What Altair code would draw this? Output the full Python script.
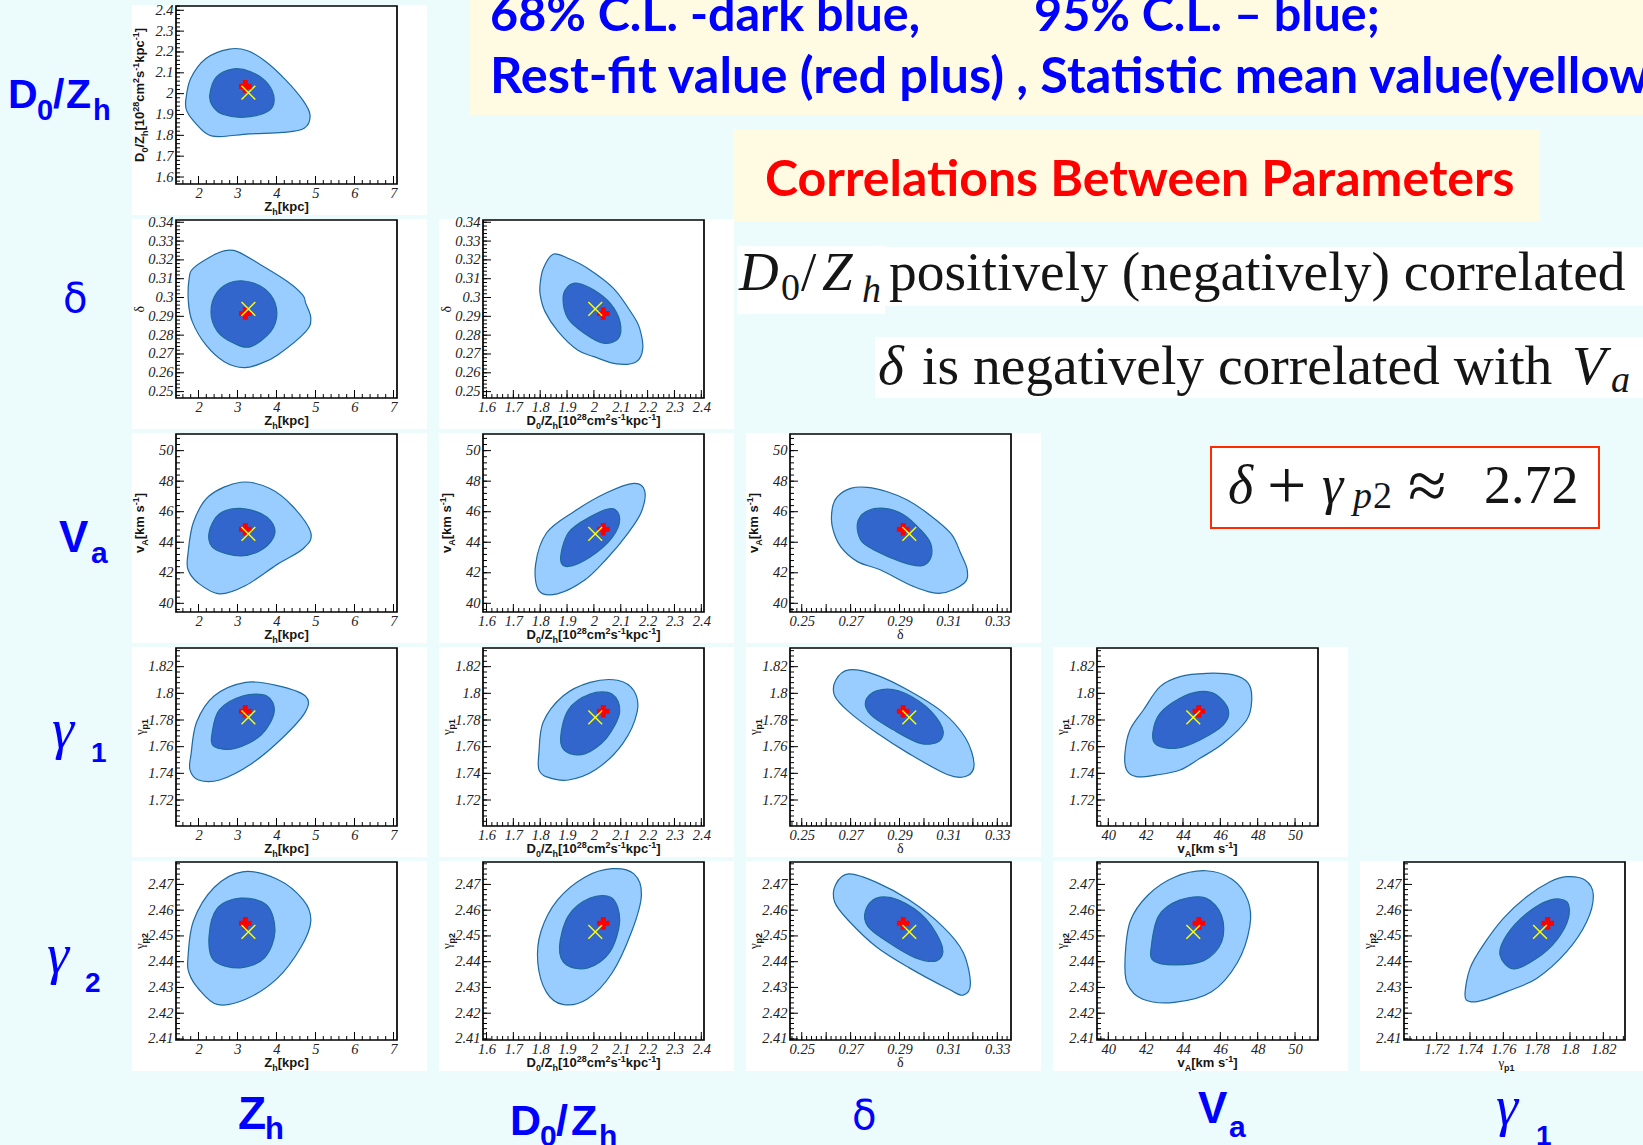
import altair as alt
import numpy as np
import pandas as pd

# ---------------------------------------------------------------- layout
SLIDE_W, SLIDE_H = 1643, 1145
FW, FH = 221, 178            # plot frame of one panel
X0, Y0 = 176, 6              # frame of the top-left panel
STEP_X, STEP_Y = 307, 214    # panel pitch

BG = "#ecfcfd"
PANEL_BG = "#ffffff"
NOTE_BG = "#fffbe3"
LIGHT = "#99ccff"   # 95% C.L.
DARK = "#3366cc"    # 68% C.L.
EDGE = "#1d6aa0"
BLUE = "#0000ff"
RED = "#ff0000"
INK = "#151515"

# ---------------------------------------------------------------- data
COL_VARS = ["Zh", "D", "delta", "vA", "g1"]
ROW_VARS = ["D", "delta", "vA", "g1", "g2"]

X_DOMAIN = {"Zh": [1.423, 7.09], "D": [1.587, 2.41], "delta": [0.2452, 0.3356],
            "vA": [39.395, 51.23], "g1": [1.7004, 1.833]}
Y_DOMAIN = {"D": [1.5665, 2.4206], "delta": [0.2466, 0.3412], "vA": [39.43, 51.09],
            "g1": [1.7005, 1.834], "g2": [2.4096, 2.4787]}

X_LABELS = {"Zh": [2, 3, 4, 5, 6, 7],
            "D": [1.6, 1.7, 1.8, 1.9, 2.0, 2.1, 2.2, 2.3, 2.4],
            "delta": [0.25, 0.27, 0.29, 0.31, 0.33],
            "vA": [40, 42, 44, 46, 48, 50],
            "g1": [1.72, 1.74, 1.76, 1.78, 1.8, 1.82]}
Y_LABELS = {"D": [1.6, 1.7, 1.8, 1.9, 2.0, 2.1, 2.2, 2.3, 2.4],
            "delta": [0.25, 0.26, 0.27, 0.28, 0.29, 0.3, 0.31, 0.32, 0.33, 0.34],
            "vA": [40, 42, 44, 46, 48, 50],
            "g1": [1.72, 1.74, 1.76, 1.78, 1.8, 1.82],
            "g2": [2.41, 2.42, 2.43, 2.44, 2.45, 2.46, 2.47]}
X_MAJOR = dict(X_LABELS, delta=[0.25, 0.26, 0.27, 0.28, 0.29, 0.3, 0.31, 0.32, 0.33])
MINOR_STEP = {"Zh": 0.2, "D": 0.02, "delta": 0.002, "vA": 0.4, "g1": 0.004, "g2": 0.002}

BEST = {"Zh": 3.20, "D": 2.035, "delta": 0.2915, "vA": 44.85, "g1": 1.7866, "g2": 2.4549}
MEAN = {"Zh": 3.28, "D": 2.005, "delta": 0.2940, "vA": 44.55, "g1": 1.7820, "g2": 2.4516}

# contour outlines, (x, y) vertices keyed by "xvar|yvar"
C95 = {
    "Zh|D": [(1.675, 1.970), (1.80, 2.073), (2.19, 2.169), (2.79, 2.214), (3.26, 2.206), (3.73, 2.153),
             (4.24, 2.065), (4.67, 1.970), (4.86, 1.898), (4.71, 1.834), (4.16, 1.814), (3.30, 1.807),
             (2.53, 1.794), (2.19, 1.810), (1.85, 1.874), (1.69, 1.922)],
    "Zh|delta": [(1.76, 0.3102), (1.87, 0.3156), (2.32, 0.3218), (2.66, 0.3248), (3.00, 0.3244),
                 (3.60, 0.3173), (4.28, 0.3085), (4.67, 0.3014), (4.75, 0.2969), (4.88, 0.2890),
                 (4.75, 0.2819), (4.03, 0.2695), (3.60, 0.2650), (3.17, 0.2627), (2.66, 0.2659),
                 (2.19, 0.2748), (1.84, 0.2872), (1.74, 0.2978)],
    "D|delta": [(1.80, 0.3076), (1.812, 0.3156), (1.848, 0.3230), (1.903, 0.3209), (1.976, 0.3156),
                (2.073, 0.3049), (2.145, 0.2907), (2.170, 0.2837), (2.182, 0.2730), (2.158, 0.2659),
                (2.085, 0.2647), (2.00, 0.2686), (1.939, 0.2721), (1.867, 0.2819), (1.818, 0.2925),
                (1.80, 0.3014)],
    "Zh|vA": [(1.73, 43.24), (1.87, 45.31), (2.27, 47.03), (3.08, 47.93), (3.83, 47.52), (4.42, 46.34),
              (4.88, 44.62), (4.69, 43.59), (4.02, 42.55), (3.21, 41.17), (2.54, 40.62), (2.00, 41.31),
              (1.73, 42.21)],
    "D|vA": [(1.795, 40.83), (1.783, 42.55), (1.824, 44.62), (1.925, 46.0), (2.047, 47.24), (2.149, 47.86),
             (2.189, 47.38), (2.177, 46.0), (2.128, 44.62), (2.047, 42.90), (1.966, 41.52), (1.864, 40.62)],
    "delta|vA": [(0.2625, 46.22), (0.2646, 46.99), (0.2700, 47.53), (0.2768, 47.60), (0.2850, 47.31),
                 (0.2932, 46.77), (0.3014, 45.90), (0.3109, 44.59), (0.3150, 43.28), (0.3177, 42.18),
                 (0.3164, 41.31), (0.3068, 40.66), (0.2959, 41.09), (0.2823, 42.18), (0.2728, 42.73),
                 (0.2659, 43.71), (0.2625, 45.02)],
    "Zh|g1": [(1.81, 1.7546), (1.95, 1.7783), (2.40, 1.7980), (3.21, 1.8082), (4.02, 1.8058), (4.74, 1.7980),
              (4.74, 1.7861), (4.15, 1.7665), (3.34, 1.7468), (2.54, 1.7350), (2.00, 1.7350), (1.78, 1.7428)],
    "D|g1": [(1.795, 1.7546), (1.811, 1.7783), (1.885, 1.7980), (1.986, 1.8082), (2.088, 1.8098),
             (2.149, 1.8019), (2.161, 1.7861), (2.108, 1.7625), (2.007, 1.7428), (1.905, 1.7350),
             (1.824, 1.7373), (1.795, 1.7428)],
    "delta|g1": [(0.2639, 1.8098), (0.2693, 1.8176), (0.2806, 1.8137), (0.2940, 1.8019), (0.3075, 1.7861),
                 (0.3170, 1.7665), (0.3205, 1.7468), (0.3175, 1.7380), (0.3098, 1.7389), (0.2940, 1.7546),
                 (0.2806, 1.7704), (0.2693, 1.7861), (0.2635, 1.7980)],
    "vA|g1": [(40.89, 1.755), (41.16, 1.7725), (41.88, 1.7875), (42.77, 1.805), (43.84, 1.8125),
              (45.27, 1.815), (46.70, 1.8138), (47.50, 1.8075), (47.68, 1.795), (47.41, 1.780),
              (46.16, 1.7625), (44.91, 1.7513), (43.84, 1.7425), (42.59, 1.7388), (41.52, 1.7375),
              (40.98, 1.7425)],
    "Zh|g2": [(1.73, 2.4416), (1.87, 2.4558), (2.40, 2.4688), (3.13, 2.4749), (4.02, 2.4720), (4.69, 2.4639),
              (4.88, 2.4558), (4.63, 2.4457), (4.02, 2.4335), (3.21, 2.4254), (2.48, 2.4234), (2.00, 2.4295),
              (1.76, 2.4355)],
    "D|g2": [(1.791, 2.4396), (1.803, 2.4518), (1.864, 2.4639), (1.966, 2.4728), (2.067, 2.4761),
             (2.149, 2.4741), (2.177, 2.4659), (2.141, 2.4518), (2.067, 2.4355), (1.974, 2.4254),
             (1.884, 2.4234), (1.823, 2.4282)],
    "delta|g2": [(0.2639, 2.4700), (0.2693, 2.4741), (0.2806, 2.4708), (0.2940, 2.4639), (0.3075, 2.4538),
                 (0.3160, 2.4437), (0.3190, 2.4315), (0.3160, 2.4270), (0.3098, 2.4295), (0.2940, 2.4376),
                 (0.2806, 2.4457), (0.2693, 2.4558), (0.2635, 2.4631)],
    "vA|g2": [(40.90, 2.4416), (41.18, 2.4558), (42.13, 2.4659), (43.54, 2.4728), (45.22, 2.4753),
              (46.63, 2.4720), (47.47, 2.4639), (47.58, 2.4538), (46.91, 2.4396), (45.51, 2.4282),
              (43.54, 2.4242), (41.85, 2.4254), (41.01, 2.4315)],
    "g1|g2": [(1.737, 2.4271), (1.740, 2.4374), (1.748, 2.4465), (1.760, 2.4568), (1.774, 2.4652),
              (1.788, 2.4710), (1.798, 2.4730), (1.809, 2.4717), (1.814, 2.4659), (1.810, 2.4555),
              (1.798, 2.4439), (1.780, 2.4335), (1.762, 2.4284), (1.748, 2.4251), (1.740, 2.4245)],
}
C68 = {
    "Zh|D": [(2.29, 1.994), (2.45, 2.078), (2.87, 2.118), (3.34, 2.105), (3.77, 2.049), (3.94, 1.970),
             (3.77, 1.914), (3.17, 1.887), (2.62, 1.901), (2.36, 1.941)],
    "Zh|delta": [(2.32, 0.2925), (2.49, 0.3031), (2.91, 0.3085), (3.43, 0.3076), (3.85, 0.3014),
                 (4.01, 0.2916), (3.85, 0.2819), (3.34, 0.2739), (2.91, 0.2757), (2.49, 0.2819)],
    "D|delta": [(1.885, 0.2996), (1.903, 0.3058), (1.939, 0.3076), (2.00, 0.3040), (2.061, 0.2969),
                (2.097, 0.2872), (2.091, 0.2783), (2.036, 0.2757), (1.964, 0.2810), (1.903, 0.2890)],
    "Zh|vA": [(2.27, 44.62), (2.54, 45.86), (3.13, 46.21), (3.75, 45.66), (3.96, 44.62), (3.67, 43.59),
              (3.08, 43.10), (2.40, 43.59)],
    "D|vA": [(1.876, 42.90), (1.905, 44.62), (1.986, 45.66), (2.067, 46.21), (2.096, 45.52), (2.067, 44.28),
             (1.986, 43.03), (1.905, 42.41)],
    "delta|vA": [(0.2728, 45.24), (0.2762, 46.00), (0.2837, 46.22), (0.2918, 45.79), (0.2987, 44.80),
                 (0.3027, 43.93), (0.3027, 42.95), (0.2987, 42.45), (0.2905, 42.73), (0.2796, 43.49),
                 (0.2741, 44.15)],
    "Zh|g1": [(2.35, 1.7704), (2.54, 1.7877), (3.13, 1.7980), (3.75, 1.7980), (3.94, 1.7861), (3.61, 1.7688),
              (2.94, 1.7586), (2.40, 1.7602)],
    "D|g1": [(1.876, 1.7665), (1.905, 1.7877), (1.986, 1.7995), (2.067, 1.7995), (2.096, 1.7861),
             (2.047, 1.7665), (1.966, 1.7546), (1.897, 1.7562)],
    "delta|g1": [(0.2761, 1.7940), (0.2806, 1.8019), (0.2896, 1.8019), (0.3008, 1.7901), (0.3075, 1.7743),
                 (0.3062, 1.7641), (0.2985, 1.7625), (0.2873, 1.7728), (0.2783, 1.7838)],
    "vA|g1": [(42.38, 1.770), (42.77, 1.785), (43.84, 1.7963), (44.91, 1.8013), (45.80, 1.7988),
              (46.43, 1.7875), (46.16, 1.7763), (44.91, 1.765), (43.66, 1.7588), (42.59, 1.7613)],
    "Zh|g2": [(2.27, 2.4497), (2.48, 2.4607), (3.08, 2.4647), (3.75, 2.4619), (3.96, 2.4518), (3.70, 2.4416),
              (3.08, 2.4376), (2.40, 2.4404)],
    "D|g2": [(1.872, 2.4457), (1.905, 2.4578), (1.986, 2.4647), (2.067, 2.4647), (2.096, 2.4558),
             (2.059, 2.4437), (1.978, 2.4376), (1.897, 2.4388)],
    "delta|g2": [(0.2761, 2.4599), (0.2806, 2.4647), (0.2896, 2.4639), (0.3008, 2.4566), (0.3075, 2.4457),
                 (0.3053, 2.4404), (0.2963, 2.4416), (0.2851, 2.4477), (0.2770, 2.4538)],
    "vA|g2": [(42.30, 2.4457), (42.70, 2.4578), (43.82, 2.4639), (45.22, 2.4647), (46.07, 2.4578),
              (46.07, 2.4477), (45.11, 2.4404), (43.54, 2.4388), (42.42, 2.4404)],
    "g1|g2": [(1.758, 2.4426), (1.762, 2.4503), (1.774, 2.4587), (1.788, 2.4639), (1.798, 2.4633),
              (1.799, 2.4568), (1.792, 2.4484), (1.780, 2.4413), (1.766, 2.4372)],
}

# axis titles: (text, position, family) with position n/sub/sup, family b=bold sans, s=serif
TITLE_SEGS = {
    "Zh": [("Z", "n", "b"), ("h", "sub", "b"), ("[kpc]", "n", "b")],
    "D": [("D", "n", "b"), ("0", "sub", "b"), ("/Z", "n", "b"), ("h", "sub", "b"), ("[10", "n", "b"),
          ("28", "sup", "b"), ("cm", "n", "b"), ("2", "sup", "b"), ("s", "n", "b"), ("-1", "sup", "b"),
          ("kpc", "n", "b"), ("-1", "sup", "b"), ("]", "n", "b")],
    "delta": [("δ", "n", "s")],
    "vA": [("v", "n", "b"), ("A", "sub", "b"), ("[km s", "n", "b"), ("-1", "sup", "b"), ("]", "n", "b")],
    "g1": [("γ", "n", "s"), ("p1", "sub", "b")],
    "g2": [("γ", "n", "s"), ("p2", "sub", "b")],
}

# slide texts: (text, x, baseline y, font size, style, colour)
NOTES = [
    ("68% C.L. -dark blue,", 490, 31, 48.5, "cal", BLUE),
    ("95% C.L. – blue;", 1034, 31, 48.5, "cal", BLUE),
    ("Rest-fit value (red plus) , Statistic mean value(yellow", 490, 93, 50.5, "cal", BLUE),
    ("Correlations Between Parameters", 765, 196, 50, "cal", RED),
    ("D", 739, 290, 55, "serifI", INK), ("0", 781, 300, 38, "serif", INK), ("/", 801, 290, 55, "serif", INK),
    ("Z", 822, 290, 55, "serifI", INK), ("h", 862, 302, 38, "serifI", INK),
    ("positively (negatively) correlated", 889, 290, 55.5, "serif", INK),
    ("δ", 878, 384, 55.5, "serifI", INK), ("is negatively correlated with", 922, 384, 55.5, "serif", INK),
    ("V", 1572, 384, 55.5, "serifI", INK), ("a", 1611, 392, 38, "serifI", INK),
    ("δ", 1228, 503, 54, "serifI", INK), ("+", 1267, 509, 70, "serif", INK), ("γ", 1322, 503, 54, "serifI", INK),
    ("p", 1353, 508, 38, "serifI", INK), ("2", 1373, 508, 38, "serif", INK), ("≈", 1408, 509, 70, "serif", INK),
    ("2.72", 1484, 503, 54, "serif", INK),
]
LABELS = [
    ("D", 8, 108, 41, "sansB"), ("0", 37, 120, 29, "sansB"), ("/", 53, 108, 41, "sansB"),
    ("Z", 66, 108, 41, "sansB"), ("h", 93, 120, 29, "sansB"),
    ("δ", 63, 312, 40, "sans"),
    ("V", 59, 552, 44, "sansB"), ("a", 91, 563, 30, "sansB"),
    ("γ", 52, 748, 56, "serifI"), ("1", 91, 762, 28, "sansB"),
    ("γ", 47, 973, 56, "serifI"), ("2", 85, 992, 28, "sansB"),
    ("Z", 238, 1129, 46, "sansB"), ("h", 265, 1139, 31, "sansB"),
    ("D", 510, 1135, 43, "sansB"), ("0", 540, 1146, 30, "sansB"), ("/", 556, 1135, 43, "sansB"),
    ("Z", 571, 1135, 43, "sansB"), ("h", 599, 1146, 30, "sansB"),
    ("δ", 852, 1129, 40, "sans"),
    ("V", 1198, 1123, 44, "sansB"), ("a", 1229, 1137, 30, "sansB"),
    ("γ", 1496, 1125, 56, "serifI"), ("1", 1536, 1145, 28, "sansB"),
]

FONTS = {
    "cal": ("Lato", "bold", "normal"),
    "sansB": ("Liberation Sans", "bold", "normal"),
    "sans": ("DejaVu Sans", "normal", "normal"),
    "serif": ("Liberation Serif", "normal", "normal"),
    "serifI": ("Liberation Serif", "normal", "italic"),
}
SANSB_W = {"Z": .611, "h": .611, "[": .333, "]": .333, "k": .556, "p": .611, "c": .556, "D": .722,
           "/": .278, "m": .889, "s": .556, "-": .333, "v": .556, "A": .722, " ": .278}
SERIF_W = {"γ": .44, "δ": .5}

AXIS_STYLE = dict(format="~g", ticks=False, domain=False, grid=False, labelFont="Liberation Serif",
                  labelFontStyle="italic", labelFontSize=14.5, labelColor="#222",
                  labelFlush=False, labelOverlap=False, title=None, zindex=1)
CROSS_X = "M-1,-1L1,1M-1,1L1,-1"


def px(field):
    return alt.X(field, type="quantitative", scale=None, axis=None)


def py(field):
    return alt.Y(field, type="quantitative", scale=None, axis=None)


def minor_ticks(dom, step):
    k0, k1 = int(np.ceil(dom[0] / step - 1e-9)), int(np.floor(dom[1] / step + 1e-9))
    return [round(k * step, 6) for k in range(k0, k1 + 1)]


def title_rows(var, x0, y0, horizontal):
    segs = TITLE_SEGS[var]
    sizes, widths = [], []
    for txt, kind, fam in segs:
        sz = 9 if kind != "n" else (14 if fam == "s" and var == "delta" else 13)
        tbl = SERIF_W if fam == "s" else SANSB_W
        sizes.append(sz)
        widths.append(sum(tbl.get(ch, .556) for ch in txt) * sz)
    total = sum(widths)
    gamma = var in ("g1", "g2")
    rows, cum = [], 0.0
    for (txt, kind, fam), sz, w in zip(segs, sizes, widths):
        off = 4 if kind == "sub" else (-5 if kind == "sup" else 0)
        style = "serif" if fam == "s" else "sansB"
        if horizontal:
            start = x0 + FW / 2 - (8 if gamma else 0) - total / 2
            rows.append(dict(t=txt, x=start + cum, y=y0 + FH + 26.5 + off, s=sz, a=0, st=style, c=INK))
        else:
            start = y0 + FH / 2 - (10 if gamma else 0) + total / 2
            rows.append(dict(t=txt, x=x0 - 32 + off, y=start - cum, s=sz, a=270, st=style, c=INK))
        cum += w
    return rows


def panel(r, c):
    xv, yv = COL_VARS[c], ROW_VARS[r]
    key = f"{xv}|{yv}"
    x0, y0 = X0 + c * STEP_X, Y0 + r * STEP_Y
    xs = alt.Scale(domain=X_DOMAIN[xv], range=[x0, x0 + FW], nice=False, zero=False)
    ys = alt.Scale(domain=Y_DOMAIN[yv], range=[y0 + FH, y0], nice=False, zero=False)
    xax = alt.Axis(values=X_LABELS[xv], orient="bottom", offset=(y0 + FH) - SLIDE_H, labelPadding=2,
                   **AXIS_STYLE)
    yax = alt.Axis(values=Y_LABELS[yv], orient="left", offset=-x0, labelPadding=3, **AXIS_STYLE)

    def X(f):
        return alt.X(f, type="quantitative", scale=xs, axis=xax)

    def Y(f):
        return alt.Y(f, type="quantitative", scale=ys, axis=yax)

    parts = []
    for pts, col in ((C95[key], LIGHT), (C68[key], DARK)):
        d = pd.DataFrame({"x": [p[0] for p in pts], "y": [p[1] for p in pts], "i": range(len(pts))})
        parts.append(alt.Chart(d).mark_line(interpolate="cardinal-closed", fill=col, stroke=EDGE,
                                            strokeWidth=1.2).encode(x=X("x"), y=Y("y"), order="i:Q"))
    for vals, ln in ((X_MAJOR[xv], 8), (minor_ticks(X_DOMAIN[xv], MINOR_STEP[xv]), 4)):
        parts.append(alt.Chart(pd.DataFrame({"v": vals})).mark_rule(color="black", strokeWidth=1).encode(
            x=X("v"), y=alt.value(y0 + FH), y2=alt.value(y0 + FH - ln)))
    for vals, ln in ((Y_LABELS[yv], 8), (minor_ticks(Y_DOMAIN[yv], MINOR_STEP[yv]), 4)):
        parts.append(alt.Chart(pd.DataFrame({"v": vals})).mark_rule(color="black", strokeWidth=1).encode(
            y=Y("v"), x=alt.value(x0), x2=alt.value(x0 + ln)))
    one = pd.DataFrame({"k": [0]})
    parts.append(alt.Chart(one).mark_rect(fillOpacity=0, stroke="black", strokeWidth=1.7).encode(
        x=alt.value(x0), x2=alt.value(x0 + FW), y=alt.value(y0), y2=alt.value(y0 + FH)))
    parts.append(alt.Chart(pd.DataFrame({"x": [BEST[xv]], "y": [BEST[yv]]})).mark_point(
        shape="cross", filled=True, color=RED, size=160, opacity=1).encode(x=X("x"), y=Y("y")))
    parts.append(alt.Chart(pd.DataFrame({"x": [MEAN[xv]], "y": [MEAN[yv]]})).mark_point(
        shape=CROSS_X, filled=False, color="#ffff00", strokeWidth=1.4, size=190, opacity=1).encode(
        x=X("x"), y=Y("y")))
    return alt.layer(*parts)


# ---------------------------------------------------------------- slide pieces
rects = [dict(x=470, x2=1700, y=-5, y2=115, f=NOTE_BG),
         dict(x=733, x2=1540, y=129, y2=221, f=NOTE_BG),
         dict(x=737, x2=885, y=246, y2=314, f="#ffffff"),
         dict(x=885, x2=1700, y=247, y2=306, f="#ffffff"),
         dict(x=875, x2=1700, y=337, y2=398, f="#ffffff")]
text_rows = []
for r in range(5):
    for c in range(r + 1):
        x0, y0 = X0 + c * STEP_X, Y0 + r * STEP_Y
        rects.append(dict(x=x0 - 44, x2=x0 + FW + 30, y=y0 - 1, y2=y0 + FH + 31, f=PANEL_BG))
        text_rows += title_rows(COL_VARS[c], x0, y0, True)
        text_rows += title_rows(ROW_VARS[r], x0, y0, False)
for t, x, y, s, st, col in NOTES:
    text_rows.append(dict(t=t, x=x, y=y, s=s, a=0, st=st, c=col))
for t, x, y, s, st in LABELS:
    text_rows.append(dict(t=t, x=x, y=y, s=s, a=0, st=st, c=BLUE))

layers = [
    alt.Chart(pd.DataFrame(rects)).mark_rect().encode(
        x=px("x"), x2="x2:Q", y=py("y"), y2="y2:Q", fill=alt.Fill("f:N", scale=None)),
    alt.Chart(pd.DataFrame({"x": [1211], "x2": [1599], "y": [447], "y2": [528]})).mark_rect(
        fill="#ffffff", stroke="#ff2a00", strokeWidth=2).encode(x=px("x"), x2="x2:Q", y=py("y"), y2="y2:Q"),
]
for r in range(5):
    for c in range(r + 1):
        layers.append(panel(r, c))

tdf = pd.DataFrame(text_rows)
for st, (font, weight, fstyle) in FONTS.items():
    d = tdf[tdf.st == st]
    if len(d) == 0:
        continue
    layers.append(alt.Chart(d).mark_text(font=font, fontWeight=weight, fontStyle=fstyle, align="left",
                                         baseline="alphabetic").encode(
        x=px("x"), y=py("y"), text="t:N", size=alt.Size("s:Q", scale=None),
        color=alt.Color("c:N", scale=None), angle=alt.Angle("a:Q", scale=None)))

chart = alt.layer(*layers).resolve_scale(x="independent", y="independent").properties(
    width=SLIDE_W, height=SLIDE_H, autosize=alt.AutoSizeParams(type="none"), padding=0, background=BG
).configure_view(stroke=None)

chart.save("out.html", embed_options={"renderer": "svg", "actions": False})
